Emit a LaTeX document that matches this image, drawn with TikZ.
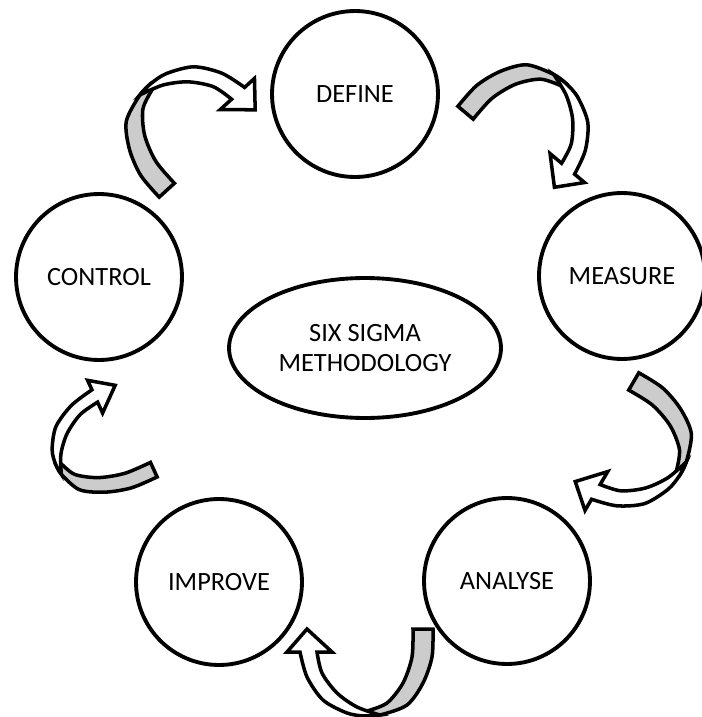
\documentclass[tikz,border=0pt]{standalone}
\usepackage{fontspec}
\setmainfont{Carlito}
\usetikzlibrary{shapes.geometric}

\tikzset{
  ribbonback/.style={fill=black!20,draw=black,line width=2pt},
  ribbonfront/.style={fill=white,draw=black,line width=2pt},
  cyclearrow/.pic={
    % grey underside, tail end
    \filldraw[ribbonback] plot[smooth] coordinates {(68,0) (67,28) (58,54) (42,76) (15,86) (0,87)}
      -- plot[smooth] coordinates {(2,82) (22,74) (38,54) (47,28) (48,0)} -- cycle;
    % white top side with the head
    \filldraw[ribbonfront] plot[smooth] coordinates {(-65,23) (-58,48) (-42,71) (-18,84) (0,87) (15,86)}
      -- plot[smooth] coordinates {(15,86) (-8,78) (-28,64) (-43,44) (-48,23)}
      -- (-33,23) -- (-58,0) -- (-78,23) -- cycle;
  }
}

\begin{document}
\begin{tikzpicture}[x=0.02cm,y=-0.02cm,
    phase/.style={draw,circle,line width=2.2pt,minimum size=3.32cm,font=\fontsize{15}{18}\selectfont}]
  \useasboundingbox (0,0) rectangle (701,717);

  \node [phase] (define) at (355,94) {DEFINE};
  \node [phase] (measure) at (622,276) {MEASURE};
  \node [phase] (analyse) at (507,581) {ANALYSE};
  \node [phase] (improve) at (219,582) {IMPROVE};
  \node [phase] (control) at (99,277) {CONTROL};
  \node [draw,ellipse,line width=2.2pt,minimum width=5.44cm,minimum height=2.8cm,
    align=center,font=\fontsize{15}{17.6}\selectfont] (core) at (365,348) {SIX SIGMA\\METHODOLOGY};

  \pic [rotate=-137.7,scale=1.03] at (211,150) {cyclearrow};
  \pic [rotate=140] at (510,150) {cyclearrow};
  \pic [rotate=59.7] at (604.5,431.5) {cyclearrow};
  \pic at (365,629) {cyclearrow};
  \pic [rotate=-65.4,xscale=0.8] at (134.5,427.5) {cyclearrow};
\end{tikzpicture}
\end{document}
